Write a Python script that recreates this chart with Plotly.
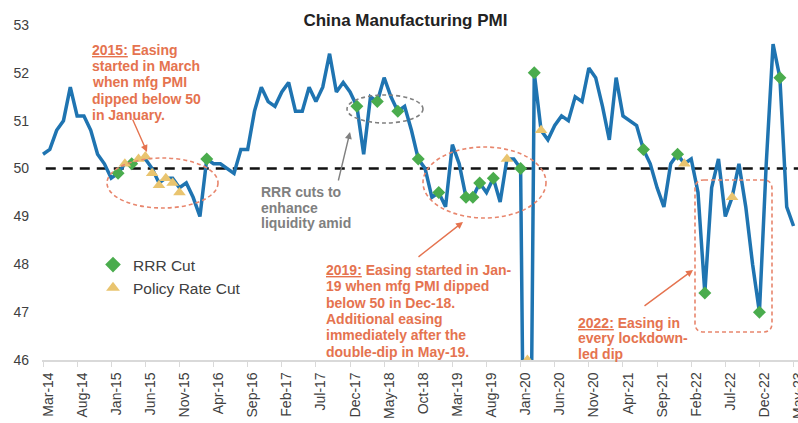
import pandas as pd
import plotly.graph_objects as go

FONT = "Liberation Sans, Arial, sans-serif"

# ---------------- data ----------------
months = pd.date_range("2014-03-01", "2023-05-01", freq="MS").strftime("%b-%y").tolist()

pmi = [
    50.3, 50.4, 50.8, 51.0, 51.7, 51.1, 51.1, 50.8, 50.3, 50.1,            # Mar-14..Dec-14
    49.8, 49.9, 50.1, 50.1, 50.2, 50.2, 50.0, 49.7, 49.8, 49.8, 49.6, 49.7,  # 2015
    49.4, 49.0, 50.2, 50.1, 50.1, 50.0, 49.9, 50.4, 50.4, 51.2, 51.7, 51.4,  # 2016
    51.3, 51.6, 51.8, 51.2, 51.2, 51.7, 51.4, 51.7, 52.4, 51.6, 51.8, 51.6,  # 2017
    51.3, 50.3, 51.5, 51.4, 51.9, 51.5, 51.2, 51.3, 50.8, 50.2, 50.0, 49.4,  # 2018
    49.5, 49.2, 50.5, 50.1, 49.4, 49.4, 49.7, 49.5, 49.8, 49.3, 50.2, 50.2,  # 2019
    50.0, 35.7, 52.0, 50.8, 50.6, 50.9, 51.1, 51.0, 51.5, 51.4, 52.1, 51.9,  # 2020
    51.3, 50.6, 51.9, 51.1, 51.0, 50.9, 50.4, 50.1, 49.6, 49.2, 50.1, 50.3,  # 2021
    50.1, 50.2, 49.5, 47.4, 49.6, 50.2, 49.0, 49.4, 50.1, 49.2, 48.0, 47.0,  # 2022
    50.1, 52.6, 51.9, 49.2, 48.8,                                            # 2023
]

rrr_months = ["Feb-15", "Apr-15", "Mar-16", "Jan-18", "Apr-18", "Jul-18", "Oct-18",
              "Jan-19", "May-19", "Jun-19", "Jul-19", "Sep-19", "Jan-20", "Mar-20",
              "Jul-21", "Dec-21", "Apr-22", "Dec-22", "Mar-23"]
rrr_values = [49.9, 50.1, 50.2, 51.3, 51.4, 51.2, 50.2,
              49.5, 49.4, 49.4, 49.7, 49.8, 50.0, 52.0,
              50.4, 50.3, 47.4, 47.0, 51.9]

policy_months = ["Mar-15", "May-15", "Jun-15", "Jul-15", "Aug-15", "Sep-15", "Oct-15",
                 "Nov-15", "Nov-19", "Feb-20", "Apr-20", "Jan-22", "Aug-22"]
policy_values = [50.1, 50.2, 50.25, 49.9, 49.65, 49.8, 49.7,
                 49.5, 50.2, 46.0, 50.8, 50.1, 49.4]

tick_labels = months[::5]
y_ticks = [46, 47, 48, 49, 50, 51, 52, 53]
threshold = 50

# ---------------- geometry helpers (pixel -> axis units) ----------------
X0_PX, PX_PER_MONTH = 43.0, 6.823
Y53_PX, PX_PER_UNIT = 25.0, 47.857


def px2x(px):
    return (px - X0_PX) / PX_PER_MONTH


def py2y(py):
    return 53 - (py - Y53_PX) / PX_PER_UNIT


idx = {m: i for i, m in enumerate(months)}

fig = go.Figure()
fig.add_trace(go.Scatter(
    x=list(range(len(months))), y=pmi, mode="lines",
    line=dict(color="#1f74b1", width=3.5), showlegend=False,
))
fig.add_trace(go.Scatter(
    x=[idx[m] for m in rrr_months], y=rrr_values, mode="markers", name="RRR Cut",
    marker=dict(symbol="diamond", size=10, color="#4aac4d"),
))
fig.add_trace(go.Scatter(
    x=[idx[m] for m in policy_months], y=policy_values, mode="markers", name="Policy Rate Cut",
    marker=dict(symbol="triangle-up", size=11, color="#e9c46f"),
))

# 50 threshold dashed line
fig.add_shape(type="line", xref="paper", x0=0.005, x1=1, yref="y", y0=threshold, y1=threshold,
              line=dict(color="#111111", width=2.5, dash="10px,7px"), layer="below")

RED = "#e8866d"
TXT_RED = "#e5734f"
GRAY = "#808080"

# ellipses
for (xa, xb, ya, yb, col) in [(107, 218, 158, 208, RED), (347, 423, 95, 123, GRAY), (423, 546, 147, 218, RED)]:
    fig.add_shape(type="circle", xref="x", yref="y",
                  x0=px2x(xa), x1=px2x(xb), y0=py2y(yb), y1=py2y(ya),
                  line=dict(color=col, width=1.6, dash="4px,3px"))

# rounded dashed box 2022
bx0, bx1, by0, by1 = px2x(695), px2x(772), py2y(332), py2y(180)
rx, ry = 9 / PX_PER_MONTH, 9 / PX_PER_UNIT
path = (f"M {bx0+rx},{by1} L {bx1-rx},{by1} Q {bx1},{by1} {bx1},{by1-ry} "
        f"L {bx1},{by0+ry} Q {bx1},{by0} {bx1-rx},{by0} L {bx0+rx},{by0} "
        f"Q {bx0},{by0} {bx0},{by0+ry} L {bx0},{by1-ry} Q {bx0},{by1} {bx0+rx},{by1} Z")
fig.add_shape(type="path", path=path, xref="x", yref="y",
              line=dict(color=RED, width=1.6, dash="4px,3px"))

# arrows
for (hx, hy, tx, ty, col) in [(147, 152, 132, 118, TXT_RED), (350, 132, 338, 182, GRAY),
                              (463, 222, 417, 258, TXT_RED), (693, 270, 643, 307, TXT_RED)]:
    fig.add_annotation(x=px2x(hx), y=py2y(hy), ax=px2x(tx), ay=py2y(ty),
                       xref="x", yref="y", axref="x", ayref="y", text="",
                       showarrow=True, arrowhead=2, arrowsize=1, arrowwidth=1.4, arrowcolor=col)


def text_block(lines, left_px, first_center_px, pitch, color, size=14):
    for i, line in enumerate(lines):
        fig.add_annotation(x=px2x(left_px), y=py2y(first_center_px + i * pitch),
                           xref="x", yref="y", text=f"<b>{line}</b>", showarrow=False,
                           xanchor="left", yanchor="middle",
                           font=dict(size=size, color=color, family=FONT))


text_block(["<u>2015:</u> Easing", "started in March", "when mfg PMI", "dipped below 50", "in January."],
           90, 50, 16.2, TXT_RED)
text_block(["RRR cuts to", "enhance", "liquidity amid"], 259, 192, 15.5, GRAY)
text_block(["<u>2019:</u> Easing started in Jan-", "19 when mfg PMI dipped", "below 50 in Dec-18.",
            "Additional easing", "immediately after the", "double-dip in May-19."],
           324, 270, 16.3, TXT_RED)
text_block(["<u>2022:</u> Easing in", "every lockdown-", "led dip"], 576, 323, 15.3, TXT_RED)

fig.update_layout(
    width=798, height=423,
    margin=dict(l=42, r=0, t=25, b=63, autoexpand=False),
    paper_bgcolor="white", plot_bgcolor="white",
    font=dict(family=FONT, color="#404040"),
    title=dict(text="<b>China Manufacturing PMI</b>", x=0.508, xref="container", xanchor="center",
               y=1 - 20 / 423, yref="container", yanchor="middle",
               font=dict(size=17, color="#222222", family=FONT)),
    showlegend=True,
    legend=dict(x=(93 - 42) / 756, y=(360 - 248) / 335, xanchor="left", yanchor="top",
                bgcolor="rgba(0,0,0,0)", font=dict(size=15.5, color="#404040", family=FONT),
                itemsizing="constant", tracegroupgap=0),
    xaxis=dict(range=[px2x(42), px2x(798)], tickmode="array",
               tickvals=list(range(0, len(months), 5)), ticktext=tick_labels,
               tickangle=-90, tickfont=dict(size=14, color="#404040", family=FONT),
               ticklabelshift=5, ticklabeloverflow="allow", automargin=False,
               showline=True, linecolor="#d9d9d9", linewidth=1.5,
               ticks="outside", ticklen=5, tickcolor="#d9d9d9",
               showgrid=False, zeroline=False),
    yaxis=dict(range=[46, 53], tickmode="array", tickvals=y_ticks,
               tickfont=dict(size=14, color="#404040", family=FONT), automargin=False,
               showgrid=False, zeroline=False, showline=False, ticks="",
               ticklabelstandoff=12),
)

fig.write_html("out.html")
